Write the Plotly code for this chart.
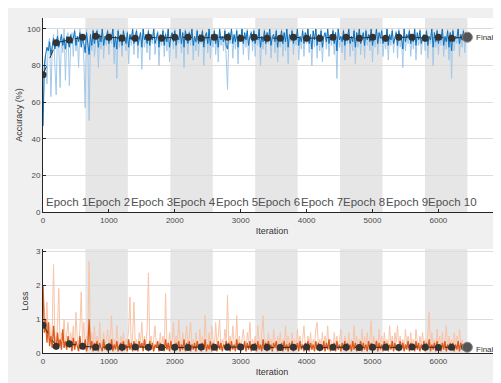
import plotly.graph_objects as go

# ---------------- data ----------------
ITER_STEP = 20
EPOCH_LEN = 644
N_EPOCHS = 10
VAL_STEP = 200
FINAL_ITER = 6440

acc_raw = [
    47, 78, 86, 70, 92, 95, 63, 88, 97, 84,
    64, 100, 90, 68, 96, 87, 100, 72, 94, 98,
    69, 92, 98, 85, 100, 88, 96, 79, 100, 91,
    97, 83, 57, 100, 92, 50, 96, 88, 100, 85,
    93, 100, 79, 97, 89, 100, 84, 96, 91, 100,
    86, 98, 92, 100, 81, 95, 73, 100, 90, 97,
    85, 100, 93, 88, 99, 81, 97, 91, 100, 86,
    96, 100, 84, 94, 98, 78, 100, 90, 95, 87,
    100, 83, 97, 92, 100, 86, 94, 99, 80, 96,
    91, 100, 85, 98, 88, 100, 82, 95, 97, 89,
    100, 84, 96, 92, 100, 87, 98, 79, 100, 93,
    86, 99, 91, 100, 83, 96, 88, 100, 85, 97,
    92, 100, 80, 95, 98, 87, 100, 84, 96, 90,
    100, 86, 97, 82, 100, 91, 95, 88, 100, 85,
    67, 98, 92, 100, 84, 96, 89, 100, 81, 97,
    93, 100, 86, 98, 90, 100, 83, 95, 99, 88,
    100, 85, 97, 91, 100, 80, 96, 89, 100, 86,
    98, 92, 100, 84, 95, 97, 87, 100, 82, 96,
    90, 100, 85, 98, 88, 100, 81, 96, 93, 100,
    86, 97, 91, 100, 83, 95, 89, 100, 85, 98,
    92, 100, 87, 96, 80, 99, 90, 100, 84, 97,
    88, 100, 82, 95, 97, 89, 100, 85, 96, 91,
    100, 86, 98, 73, 100, 90, 95, 87, 100, 83,
    97, 92, 100, 85, 96, 88, 100, 81, 98, 90,
    100, 86, 95, 97, 84, 100, 91, 96, 88, 100,
    82, 97, 90, 100, 86, 98, 92, 100, 85, 95,
    89, 100, 83, 97, 91, 100, 87, 96, 99, 84,
    100, 90, 95, 79, 100, 88, 97, 92, 100, 85,
    96, 89, 100, 83, 98, 91, 100, 86, 95, 97,
    88, 100, 84, 96, 92, 100, 80, 98, 90, 100,
    86, 97, 91, 100, 85, 95, 89, 100, 83, 98,
    73, 100, 88, 96, 92, 100, 85, 97, 90, 100,
    87, 96, 95,
]

acc_smooth = [
    47, 80, 86, 90, 88, 93, 86, 91, 95, 89,
    93, 96, 90, 94, 97, 91, 95, 89, 96, 93,
    90, 97, 92, 95, 99, 91, 96, 93, 98, 90,
    95, 92, 87, 98, 93, 86, 97, 91, 99, 92,
    96, 99, 90, 97, 93, 100, 91, 96, 94, 99,
    92, 97, 95, 100, 90, 96, 89, 99, 93, 97,
    91, 99, 95, 92, 98, 90, 97, 94, 100, 92,
    96, 99, 91, 95, 98, 90, 100, 94, 97, 92,
    99, 91, 97, 94, 100, 92, 96, 98, 90, 97,
    94, 99, 91, 97, 93, 100, 90, 96, 98, 93,
    99, 91, 96, 94, 100, 92, 98, 90, 99, 95,
    92, 98, 94, 100, 91, 96, 93, 99, 92, 97,
    95, 99, 90, 96, 98, 92, 100, 91, 97, 94,
    99, 92, 97, 90, 100, 94, 96, 93, 99, 91,
    89, 98, 94, 100, 92, 97, 93, 99, 90, 97,
    95, 100, 92, 98, 94, 99, 91, 96, 98, 93,
    99, 92, 97, 94, 100, 90, 96, 93, 99, 92,
    98, 94, 100, 91, 96, 97, 93, 99, 90, 96,
    94, 99, 92, 98, 93, 100, 90, 97, 95, 99,
    92, 97, 94, 100, 91, 96, 93, 99, 92, 98,
    95, 100, 92, 97, 89, 99, 94, 100, 91, 97,
    93, 99, 90, 96, 98, 93, 100, 92, 97, 94,
    99, 92, 98, 88, 100, 94, 96, 93, 99, 91,
    97, 95, 100, 92, 96, 93, 99, 90, 98, 94,
    100, 92, 96, 98, 91, 99, 94, 97, 93, 100,
    91, 97, 94, 100, 92, 98, 95, 99, 92, 96,
    93, 100, 91, 97, 94, 99, 92, 96, 98, 91,
    99, 94, 96, 89, 100, 93, 97, 95, 99, 92,
    97, 93, 100, 91, 98, 94, 99, 92, 96, 97,
    93, 99, 91, 96, 94, 100, 90, 98, 93, 99,
    92, 97, 94, 100, 91, 96, 93, 99, 90, 98,
    88, 99, 93, 96, 95, 100, 92, 97, 94, 99,
    93, 96, 95,
]

acc_val = [
    75, 92.5, 94, 95.5, 96, 95.5, 95, 95, 95.5, 95, 95.5,
    95.5, 95, 95.5, 95.5, 95, 95.5, 95, 95, 95.5, 95, 95,
    95.5, 95.5, 95, 95.5, 95, 95.5, 95.5, 95, 95.5, 95, 95.5,
]
acc_final = 95.5

loss_raw = [
    2.0, 1.1, 0.6, 1.5, 0.4, 0.9, 0.3, 0.7, 2.6, 0.5,
    0.3, 0.8, 1.9, 0.2, 0.6, 0.4, 1.0, 0.2, 0.5, 0.9,
    0.2, 0.6, 0.3, 0.8, 0.1, 1.2, 0.4, 0.2, 0.7, 1.8,
    0.3, 0.9, 0.2, 0.5, 0.4, 2.7, 0.3, 0.6, 0.1, 0.8,
    0.2, 0.5, 0.1, 0.9, 0.3, 0.2, 0.6, 0.1, 0.4, 0.7,
    0.2, 0.5, 1.1, 0.1, 0.4, 0.2, 0.8, 0.3, 0.1, 0.5,
    0.2, 0.6, 0.1, 0.4, 0.3, 0.7, 1.65, 0.1, 0.5, 1.5,
    0.2, 0.4, 0.1, 0.6, 0.3, 0.9, 0.1, 0.5, 0.2, 0.7,
    2.35, 0.2, 0.5, 0.1, 0.4, 0.8, 0.2, 0.3, 0.1, 0.6,
    0.2, 0.5, 0.1, 1.75, 0.3, 0.1, 0.6, 0.2, 0.4, 0.9,
    0.1, 0.5, 0.2, 1.0, 0.3, 0.1, 0.6, 0.2, 0.4, 0.8,
    0.1, 0.5, 0.9, 0.2, 0.4, 0.1, 0.6, 0.3, 0.1, 0.7,
    0.2, 0.5, 0.1, 1.1, 0.3, 0.2, 0.6, 0.1, 0.8, 0.4,
    0.1, 0.9, 0.2, 0.5, 1.0, 0.1, 0.4, 0.2, 0.7, 0.3,
    1.7, 0.2, 0.5, 0.1, 0.8, 0.3, 0.1, 1.1, 0.2, 0.5,
    0.1, 0.4, 0.7, 0.2, 0.1, 0.6, 0.3, 0.9, 0.1, 0.4,
    0.2, 0.5, 0.1, 0.8, 0.3, 0.1, 0.5, 1.1, 0.2, 0.4,
    0.1, 0.6, 0.2, 0.4, 0.1, 0.7, 0.3, 0.1, 0.5, 0.2,
    0.6, 0.1, 0.4, 0.2, 0.8, 0.1, 0.5, 0.3, 0.1, 0.6,
    0.2, 0.4, 0.1, 0.7, 0.2, 0.5, 0.1, 0.4, 0.8, 0.2,
    0.1, 0.5, 0.2, 0.6, 0.1, 0.4, 0.2, 0.7, 0.9, 0.1,
    0.4, 0.2, 0.6, 0.1, 0.5, 0.2, 0.8, 0.1, 0.4, 0.3,
    0.1, 0.6, 0.2, 0.5, 0.1, 0.4, 0.7, 0.2, 0.1, 0.5,
    0.3, 0.1, 0.6, 0.2, 0.4, 0.1, 0.8, 0.2, 0.5, 0.1,
    0.4, 0.2, 0.7, 0.1, 0.5, 0.2, 0.6, 0.1, 0.4, 0.95,
    0.1, 0.5, 0.2, 0.4, 0.1, 0.7, 0.2, 0.5, 0.1, 0.6,
    0.2, 0.4, 0.1, 0.8, 0.2, 0.5, 0.1, 0.6, 0.3, 0.8,
    0.1, 0.5, 0.2, 0.4, 0.1, 0.7, 0.2, 0.5, 0.1, 0.6,
    0.2, 0.4, 0.1, 0.7, 0.3, 0.1, 0.5, 0.2, 0.6, 0.1,
    0.4, 0.2, 0.5, 1.2, 0.1, 0.6, 0.2, 0.4, 0.1, 0.7,
    0.2, 0.5, 0.1, 0.6, 0.2, 0.4, 0.8, 0.1, 0.5, 0.2,
    0.4, 0.1, 0.6, 0.2, 0.5, 0.1, 0.7, 0.2, 0.4, 0.1,
    0.3, 0.2, 0.15,
]

loss_smooth = [
    2.0, 0.6, 1.0, 0.3, 0.9, 0.2, 0.5, 0.15, 0.8, 0.3,
    0.1, 0.6, 0.2, 0.4, 0.1, 0.7, 0.15, 0.35, 0.1, 0.5,
    0.15, 0.3, 0.05, 0.45, 0.1, 0.35, 0.2, 0.05, 0.5, 0.15,
    0.3, 0.1, 0.4, 0.05, 0.2, 1.0, 0.1, 0.35, 0.05, 0.3,
    0.1, 0.35, 0.05, 0.3, 0.15, 0.05, 0.4, 0.1, 0.25, 0.05,
    0.3, 0.1, 0.4, 0.05, 0.25, 0.1, 0.35, 0.05, 0.2, 0.3,
    0.05, 0.35, 0.1, 0.25, 0.05, 0.4, 0.1, 0.3, 0.05, 0.35,
    0.1, 0.25, 0.05, 0.35, 0.15, 0.3, 0.05, 0.4, 0.1, 0.25,
    0.05, 0.35, 0.1, 0.3, 0.05, 0.25, 0.15, 0.35, 0.05, 0.3,
    0.1, 0.25, 0.05, 0.4, 0.1, 0.3, 0.05, 0.35, 0.1, 0.25,
    0.05, 0.3, 0.1, 0.35, 0.05, 0.25, 0.1, 0.4, 0.05, 0.3,
    0.1, 0.35, 0.05, 0.25, 0.1, 0.3, 0.05, 0.35, 0.15, 0.25,
    0.05, 0.3, 0.1, 0.4, 0.05, 0.25, 0.1, 0.35, 0.05, 0.3,
    0.1, 0.25, 0.05, 0.35, 0.1, 0.3, 0.05, 0.25, 0.15, 0.35,
    0.2, 0.3, 0.05, 0.35, 0.1, 0.25, 0.05, 0.4, 0.1, 0.3,
    0.05, 0.25, 0.1, 0.35, 0.05, 0.3, 0.1, 0.35, 0.05, 0.25,
    0.1, 0.3, 0.05, 0.35, 0.1, 0.25, 0.05, 0.4, 0.1, 0.3,
    0.05, 0.35, 0.1, 0.25, 0.05, 0.3, 0.15, 0.35, 0.05, 0.25,
    0.1, 0.3, 0.05, 0.35, 0.1, 0.25, 0.05, 0.3, 0.1, 0.35,
    0.05, 0.25, 0.1, 0.3, 0.05, 0.35, 0.1, 0.25, 0.05, 0.3,
    0.1, 0.35, 0.05, 0.3, 0.1, 0.25, 0.05, 0.35, 0.1, 0.3,
    0.05, 0.25, 0.1, 0.35, 0.05, 0.3, 0.1, 0.4, 0.05, 0.25,
    0.1, 0.3, 0.05, 0.35, 0.1, 0.25, 0.05, 0.3, 0.1, 0.35,
    0.05, 0.3, 0.1, 0.25, 0.05, 0.35, 0.1, 0.3, 0.05, 0.25,
    0.1, 0.35, 0.05, 0.3, 0.1, 0.25, 0.05, 0.35, 0.1, 0.3,
    0.05, 0.25, 0.1, 0.35, 0.05, 0.3, 0.1, 0.25, 0.05, 0.35,
    0.1, 0.3, 0.05, 0.25, 0.1, 0.35, 0.05, 0.3, 0.1, 0.25,
    0.05, 0.35, 0.1, 0.3, 0.05, 0.25, 0.1, 0.35, 0.05, 0.3,
    0.1, 0.25, 0.05, 0.35, 0.1, 0.3, 0.05, 0.25, 0.1, 0.35,
    0.05, 0.3, 0.1, 0.4, 0.05, 0.25, 0.1, 0.3, 0.05, 0.35,
    0.1, 0.25, 0.05, 0.3, 0.1, 0.35, 0.05, 0.25, 0.1, 0.3,
    0.15, 0.3, 0.05, 0.25, 0.1, 0.35, 0.05, 0.3, 0.1, 0.25,
    0.1, 0.2, 0.15,
]

loss_val = [
    0.82, 0.2, 0.27, 0.2, 0.17, 0.18, 0.17, 0.18, 0.17, 0.16, 0.17,
    0.16, 0.18, 0.17, 0.17, 0.18, 0.17, 0.17, 0.16, 0.17, 0.18, 0.16,
    0.17, 0.17, 0.16, 0.17, 0.17, 0.16, 0.18, 0.17, 0.16, 0.17, 0.17,
]
loss_final = 0.17

epoch_labels = ["Epoch %d" % (k + 1) for k in range(N_EPOCHS)]
acc_ticks = [0, 20, 40, 60, 80, 100]
loss_ticks = [0, 1, 2, 3]
iter_ticks = [0, 1000, 2000, 3000, 4000, 5000, 6000]


def iters_for(vals):
    xs = [i * ITER_STEP for i in range(len(vals))]
    xs[-1] = FINAL_ITER
    return xs


val_iters = [i * VAL_STEP for i in range(len(acc_val))]

# ---------------- styling ----------------
# the page body keeps its default 8px margin, so the figure starts at (8, 8)
W, H = 493, 375
FONT = "Liberation Sans, Arial, sans-serif"
BG = "#f0f0f0"
BAND = "#e6e6e6"
TXT = "#4a4a4a"

fig = go.Figure()


def add_panel(raw, smooth, val, final, xa, ya, light, dark, dark_w):
    fig.add_trace(go.Scatter(x=iters_for(raw), y=raw, mode="lines", xaxis=xa, yaxis=ya,
                             line=dict(color=light, width=1), hoverinfo="skip"))
    fig.add_trace(go.Scatter(x=iters_for(smooth), y=smooth, mode="lines", xaxis=xa, yaxis=ya,
                             line=dict(color=dark, width=dark_w), hoverinfo="skip"))
    fig.add_trace(go.Scatter(x=val_iters + [FINAL_ITER], y=val + [final], mode="lines+markers",
                             xaxis=xa, yaxis=ya,
                             line=dict(color="#2b2b2b", width=1, dash="dash"),
                             marker=dict(color="#333333", size=7), hoverinfo="skip"))
    fig.add_trace(go.Scatter(x=[FINAL_ITER], y=[final], mode="markers", xaxis=xa, yaxis=ya,
                             marker=dict(color="#555555", size=10,
                                         line=dict(color="#888888", width=1)),
                             hoverinfo="skip"))


add_panel(acc_raw, acc_smooth, acc_val, acc_final, "x", "y", "#a3c9ea", "#0b72bd", 1)
add_panel(loss_raw, loss_smooth, loss_val, loss_final, "x2", "y2", "#f9c4a8", "#dc5a1c", 1.3)

shapes = []
for k in range(1, N_EPOCHS, 2):
    for xr, yr in (("x", "y domain"), ("x2", "y2 domain")):
        shapes.append(dict(type="rect", xref=xr, yref=yr,
                           x0=k * EPOCH_LEN, x1=(k + 1) * EPOCH_LEN, y0=0, y1=1,
                           fillcolor=BAND, line=dict(width=0), layer="below"))

annotations = []
for k, lab in enumerate(epoch_labels):
    annotations.append(dict(x=k * EPOCH_LEN, y=5.6, xref="x", yref="y", text=lab,
                            showarrow=False, xanchor="left", yanchor="middle", xshift=1,
                            font=dict(family=FONT, size=11.5, color="#505050")))
annotations.append(dict(x=FINAL_ITER, y=acc_final, xref="x", yref="y", text="Final",
                        showarrow=False, xanchor="left", xshift=7,
                        font=dict(family=FONT, size=8, color="#333333")))
annotations.append(dict(x=FINAL_ITER, y=loss_final, xref="x2", yref="y2", text="Final",
                        showarrow=False, xanchor="left", xshift=7, yshift=-2,
                        font=dict(family=FONT, size=8, color="#333333")))

XDOM = [35 / W, 1.0]
axis_common = dict(showline=True, linecolor="#262626", linewidth=1, ticks="inside",
                   ticklen=3, tickcolor="#262626", zeroline=False, automargin=False,
                   tickfont=dict(family=FONT, size=8, color=TXT))
title_font = dict(family=FONT, size=9, color="#333333")

fig.update_layout(
    width=W, height=H, margin=dict(l=0, r=0, t=0, b=0, autoexpand=False),
    paper_bgcolor=BG, plot_bgcolor="white", showlegend=False,
    shapes=shapes, annotations=annotations,
    xaxis=dict(domain=XDOM, anchor="y", range=[0, 6950], tickvals=iter_ticks,
               showgrid=False, title=dict(text="Iteration", standoff=4, font=title_font),
               **axis_common),
    yaxis=dict(domain=[1 - 204 / H, 1 - 10 / H], anchor="x", range=[0, 106],
               tickvals=acc_ticks, showgrid=True, gridcolor="#dcdcdc",
               title=dict(text="Accuracy (%)", standoff=2, font=title_font),
               **axis_common),
    xaxis2=dict(domain=XDOM, anchor="y2", range=[0, 6950], tickvals=iter_ticks,
                showgrid=False, title=dict(text="Iteration", standoff=4, font=title_font),
                **axis_common),
    yaxis2=dict(domain=[1 - 345 / H, 1 - 241 / H], anchor="x2", range=[0, 3.06],
                tickvals=loss_ticks, showgrid=True, gridcolor="#dcdcdc",
                title=dict(text="Loss", standoff=5, font=title_font),
                **axis_common),
)

fig.write_html("out.html")
